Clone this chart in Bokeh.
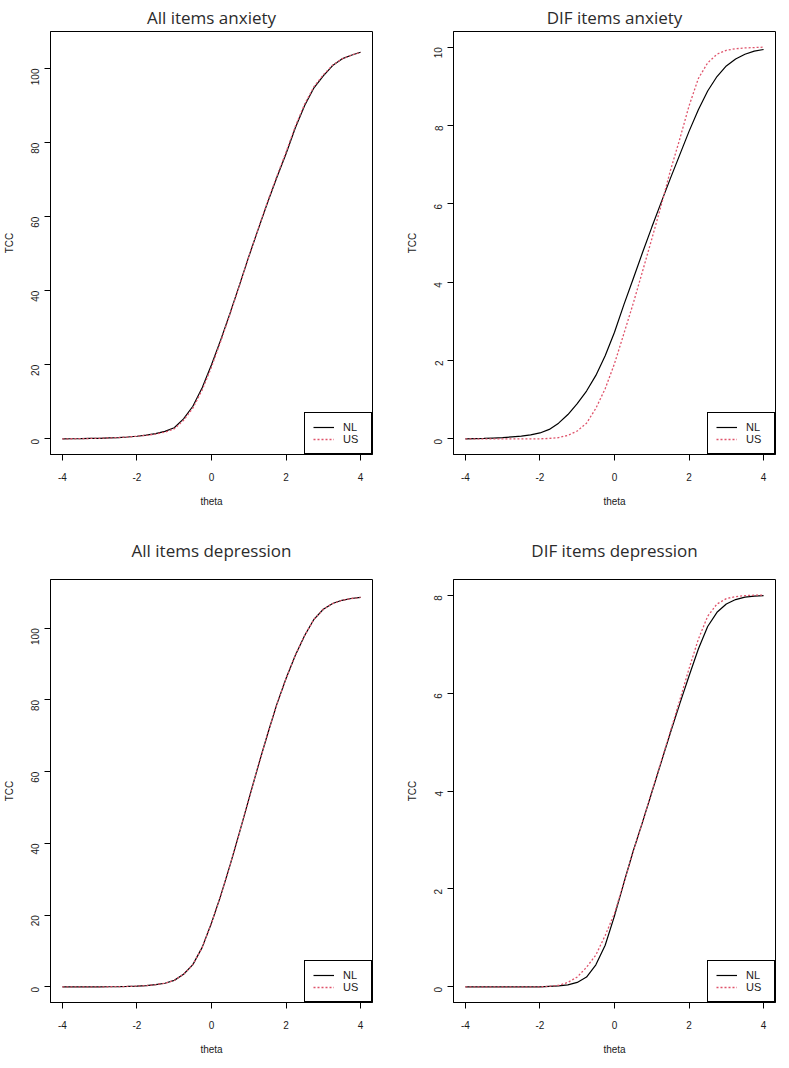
import math
from bokeh.plotting import figure
from bokeh.layouts import column, row
from bokeh.models import Range1d, FixedTicker, Legend, LegendItem
from bokeh.embed import file_html
from bokeh.resources import INLINE

# ---------------- data ----------------
theta = [-4.0, -3.75, -3.5, -3.25, -3.0, -2.75, -2.5, -2.25, -2.0, -1.75, -1.5,
         -1.25, -1.0, -0.75, -0.5, -0.25, 0.0, 0.25, 0.5, 0.75, 1.0, 1.25, 1.5,
         1.75, 2.0, 2.25, 2.5, 2.75, 3.0, 3.25, 3.5, 3.75, 4.0]

anx_all_nl = [0.0, 0.02, 0.05, 0.1, 0.15, 0.25, 0.35, 0.5, 0.7, 1.0, 1.4,
              2.0, 3.0, 5.4, 8.8, 13.8, 20.0, 26.8, 34.0, 41.5, 49.2, 56.5, 63.7,
              70.5, 77.0, 84.0, 90.0, 94.8, 98.0, 100.8, 102.6, 103.6, 104.4]
anx_all_us = [0.0, 0.02, 0.05, 0.1, 0.15, 0.25, 0.35, 0.5, 0.7, 0.95, 1.3,
              1.8, 2.7, 5.0, 8.3, 13.2, 19.4, 26.4, 33.8, 41.4, 49.2, 56.6, 63.9,
              70.8, 77.4, 84.4, 90.4, 95.1, 98.3, 100.9, 102.6, 103.6, 104.4]

anx_dif_nl = [0.0, 0.005, 0.01, 0.02, 0.03, 0.05, 0.07, 0.1, 0.15, 0.24, 0.40,
              0.62, 0.90, 1.22, 1.62, 2.12, 2.72, 3.42, 4.08, 4.75, 5.40, 6.03, 6.65,
              7.25, 7.85, 8.40, 8.88, 9.25, 9.52, 9.70, 9.82, 9.90, 9.94]
anx_dif_us = [0.0, 0.0, 0.0, 0.0, 0.0, 0.0, 0.0, 0.0, 0.0, 0.01, 0.03,
              0.09, 0.20, 0.40, 0.78, 1.28, 1.92, 2.68, 3.45, 4.27, 5.10, 5.95, 6.85,
              7.65, 8.50, 9.20, 9.60, 9.82, 9.92, 9.96, 9.98, 9.99, 10.0]

dep_all_nl = [0.0, 0.0, 0.0, 0.0, 0.0, 0.02, 0.05, 0.1, 0.2, 0.35, 0.6,
              1.0, 1.8, 3.5, 6.2, 11.0, 17.8, 25.5, 34.0, 43.0, 52.3, 61.5, 70.3,
              78.7, 86.0, 92.5, 98.0, 102.5, 105.3, 106.9, 107.8, 108.3, 108.6]
dep_all_us = [0.0, 0.0, 0.0, 0.0, 0.0, 0.02, 0.05, 0.1, 0.2, 0.35, 0.6,
              1.0, 1.8, 3.5, 6.2, 11.0, 17.8, 25.5, 34.0, 43.0, 52.3, 61.5, 70.3,
              78.7, 86.0, 92.5, 98.0, 102.5, 105.3, 106.9, 107.8, 108.3, 108.6]

dep_dif_nl = [0.0, 0.0, 0.0, 0.0, 0.0, 0.0, 0.0, 0.0, 0.0, 0.01, 0.02,
              0.04, 0.09, 0.20, 0.45, 0.85, 1.45, 2.12, 2.77, 3.36, 3.97, 4.58, 5.19,
              5.78, 6.35, 6.90, 7.36, 7.65, 7.82, 7.91, 7.96, 7.98, 7.99]
dep_dif_us = [0.0, 0.0, 0.0, 0.0, 0.0, 0.0, 0.0, 0.0, 0.0, 0.01, 0.03,
              0.09, 0.20, 0.40, 0.65, 1.05, 1.50, 2.12, 2.76, 3.36, 3.98, 4.60, 5.22,
              5.85, 6.50, 7.10, 7.57, 7.82, 7.93, 7.97, 7.99, 8.0, 8.0]

titles = ["All items anxiety", "DIF items anxiety",
          "All items depression", "DIF items depression"]
x_ticks = [-4, -2, 0, 2, 4]
x_tick_labels = ["-4", "-2", "0", "2", "4"]
y_ticks_all = [0, 20, 40, 60, 80, 100]
y_ticks_anx_dif = [0, 2, 4, 6, 8, 10]
y_ticks_dep_dif = [0, 2, 4, 6, 8]
legend_labels = ["NL", "US"]

RED = "#DF536B"
TXT = "#1a1a1a"
TICKFONT = "Liberation Sans"


def panel(title, nl, us, ylo, yhi, yticks, bl, br, bt, bb, standoff, fw, fh):
    p = figure(frame_width=fw, frame_height=fh, output_backend="svg",
               toolbar_location=None, tools="",
               x_range=Range1d(-4.32, 4.32), y_range=Range1d(ylo, yhi),
               min_border_left=bl, min_border_right=br,
               min_border_top=bt, min_border_bottom=bb)
    p.title.text = title
    p.title.align = "center"
    p.title.text_font = "Open Sans"
    p.title.text_font_size = "17px"
    p.title.text_font_style = "normal"
    p.title.text_color = "#2b2b2b"
    p.title.text_line_height = 1.0
    p.title.standoff = standoff

    p.grid.visible = False
    p.outline_line_color = "black"
    p.outline_line_width = 1
    p.outline_line_alpha = 1

    for ax in (p.xaxis[0], p.yaxis[0]):
        ax.axis_line_color = "black"
        ax.major_tick_line_color = "black"
        ax.major_tick_out = 6
        ax.major_tick_in = 0
        ax.minor_tick_line_color = None
        ax.major_label_text_font = TICKFONT
        ax.major_label_text_font_size = "10px"
        ax.major_label_text_color = TXT
        ax.major_label_text_line_height = 1.0
        ax.axis_label_text_font = TICKFONT
        ax.axis_label_text_font_size = "10px"
        ax.axis_label_text_font_style = "normal"
        ax.axis_label_text_color = TXT
        ax.axis_label_text_line_height = 1.0

    p.xaxis.ticker = FixedTicker(ticks=x_ticks)
    p.xaxis.major_label_overrides = {t: s for t, s in zip(x_ticks, x_tick_labels)}
    p.xaxis.axis_label = "theta"
    p.xaxis.major_label_standoff = 12
    p.xaxis.axis_label_standoff = 12

    p.yaxis.ticker = FixedTicker(ticks=yticks)
    p.yaxis.axis_label = "TCC"
    p.yaxis.major_label_orientation = math.pi / 2
    p.yaxis.major_label_standoff = 9
    p.yaxis.axis_label_standoff = 10

    r1 = p.line(theta, nl, line_color="black", line_width=1.2)
    r2 = p.line(theta, us, line_color=RED, line_width=1.3, line_dash="2 2")

    leg = Legend(items=[LegendItem(label=legend_labels[0], renderers=[r1]),
                        LegendItem(label=legend_labels[1], renderers=[r2])],
                 location="bottom_right")
    leg.margin = 0
    leg.padding = 8
    leg.spacing = 0
    leg.glyph_width = 21
    leg.glyph_height = 12
    leg.label_height = 12
    leg.label_standoff = 9
    leg.label_text_font = TICKFONT
    leg.label_text_font_size = "11px"
    leg.label_text_color = TXT
    leg.border_line_color = "black"
    leg.border_line_width = 1
    leg.border_line_alpha = 1
    leg.background_fill_alpha = 1
    p.add_layout(leg)
    return p


FW = 322
FH = 423
p1 = panel(titles[0], anx_all_nl, anx_all_us, -4.23, 110.0, y_ticks_all,
           47, 14, 27, 50, 6, FW, FH)
p2 = panel(titles[1], anx_dif_nl, anx_dif_us, -0.4, 10.4, y_ticks_anx_dif,
           67, 1, 27, 50, 6, FW, FH)
p3 = panel(titles[2], dep_all_nl, dep_all_us, -4.37, 113.6, y_ticks_all,
           47, 14, 70, 50, 36, FW, FH)
p4 = panel(titles[3], dep_dif_nl, dep_dif_us, -0.32, 8.32, y_ticks_dep_dif,
           67, 1, 70, 50, 36, FW, FH)

layout = column(row(p1, p2), row(p3, p4))

with open("out.html", "w") as f:
    f.write(file_html(layout, INLINE))
